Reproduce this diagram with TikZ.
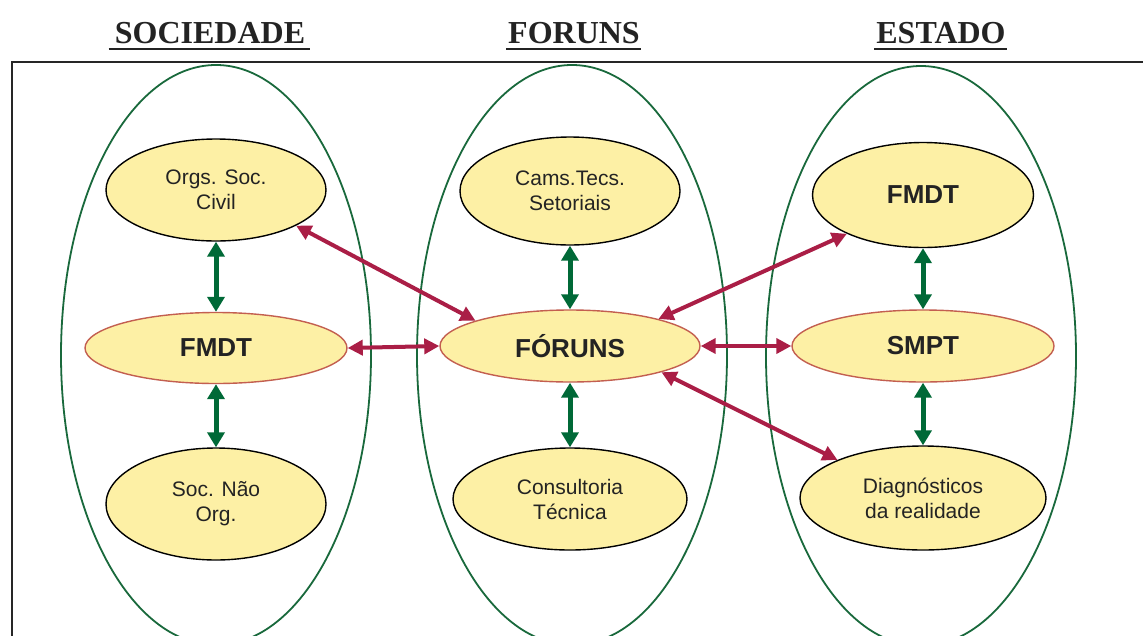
\documentclass[tikz,border=0pt]{standalone}
\usepackage{fontspec}
\setmainfont{Liberation Serif}
\newfontfamily\arialfont{Liberation Sans}
\usetikzlibrary{shapes.geometric,arrows.meta}
\definecolor{ringgreen}{RGB}{25,105,60}
\definecolor{arrgreen}{RGB}{0,105,55}
\definecolor{arrred}{RGB}{170,30,70}
\definecolor{fillyel}{RGB}{253,240,165}
\definecolor{midborder}{RGB}{195,95,80}
\definecolor{txt}{RGB}{35,35,35}
\begin{document}
\begin{tikzpicture}[x=1pt,y=-1pt,
 ring/.style={ellipse, draw=ringgreen, line width=1.8pt, minimum width=310pt, minimum height=580pt, inner sep=0pt},
 sub/.style={ellipse, draw=black, line width=1.4pt, fill=fillyel, inner sep=0pt, align=center, font=\arialfont\fontsize{21}{25}\selectfont, text=txt},
 hub/.style={sub, draw=midborder, font=\arialfont\bfseries\fontsize{26}{30}\selectfont},
 gar/.style={line width=5pt, draw=arrgreen, {Triangle[length=15pt,width=17pt]}-{Triangle[length=15pt,width=17pt]}},
 rar/.style={line width=4pt, draw=arrred, {Triangle[length=15pt,width=15pt]}-{Triangle[length=15pt,width=15pt]}},
 head/.style={font=\bfseries\fontsize{32}{36}\selectfont, text=txt, inner sep=0pt, anchor=base},
 uline/.style={line width=2pt, draw=txt}
]
\clip (0,0) rectangle (1143,635);
\fill[white] (0,0) rectangle (1143,635);

% headings
\node[head] (hsoc) at (210,43) {SOCIEDADE};
\node[head] (hfor) at (574,43) {FORUNS};
\node[head] (hest) at (941,43) {ESTADO};
\draw[uline] ([xshift=-6pt,yshift=-6pt]hsoc.base west) -- ([xshift=5pt,yshift=-6pt]hsoc.base east);
\draw[uline] ([xshift=-2pt,yshift=-6pt]hfor.base west) -- ([xshift=1pt,yshift=-6pt]hfor.base east);
\draw[uline] ([xshift=-2pt,yshift=-6pt]hest.base west) -- ([xshift=1pt,yshift=-6pt]hest.base east);

% frame
\draw[line width=2pt, draw=black!85] (12,640) -- (12,62) -- (1150,62);

% big rings
\node[ring] (socring) at (216,355) {};
\node[ring] (forring) at (572,355) {};
\node[ring] (estring) at (921,356) {};

% inner ellipses
\node[sub, minimum width=220pt, minimum height=102pt] (orgs) at (216,190) {Orgs. Soc.\\Civil};
\node[hub, minimum width=262pt, minimum height=71pt] (fmdtS) at (216,348) {FMDT};
\node[sub, minimum width=220pt, minimum height=112pt] (naoorg) at (216,504) {Soc. Não\\Org.};

\node[sub, minimum width=220pt, minimum height=108pt] (cams) at (570,191) {Cams.Tecs.\\Setoriais};
\node[hub, minimum width=260pt, minimum height=72pt] (foruns) at (570,346) {FÓRUNS};
\node[sub, minimum width=234pt, minimum height=102pt] (consult) at (570,499) {Consultoria\\Técnica};

\node[sub, minimum width=221pt, minimum height=105pt, font=\arialfont\bfseries\fontsize{26}{30}\selectfont] (fmdtE) at (923,195) {FMDT};
\node[hub, minimum width=262pt, minimum height=72pt] (smpt) at (923,346) {SMPT};
\node[sub, minimum width=246pt, minimum height=104pt] (diag) at (923,498) {Diagnósticos\\da realidade};

% green vertical arrows
\draw[gar] (orgs.south) -- (fmdtS.north);
\draw[gar] (fmdtS.south) -- (naoorg.north);
\draw[gar] (cams.south) -- (foruns.north);
\draw[gar] (foruns.south) -- (consult.north);
\draw[gar] (fmdtE.south) -- (smpt.north);
\draw[gar] (smpt.south) -- (diag.north);

% red arrows
\draw[rar] (orgs.-24) -- (foruns.165);
\draw[rar] (fmdtS.east) -- (foruns.west);
\draw[rar] (foruns.17) -- (fmdtE.207);
\draw[rar] (foruns.east) -- (smpt.west);
\draw[rar] (foruns.-16) -- (diag.156);
\end{tikzpicture}
\end{document}
